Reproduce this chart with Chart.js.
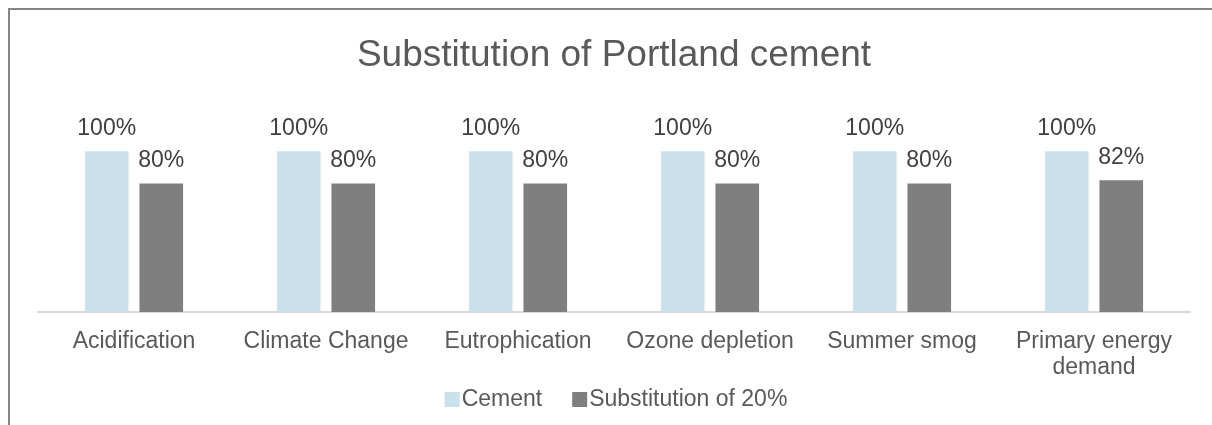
<!DOCTYPE html>
<html>
<head>
<meta charset="utf-8">
<script src="https://cdn.jsdelivr.net/npm/chart.js@4"></script>
<style>
  html, body { margin: 0; padding: 0; background: #fff; }
  #wrap { position: relative; width: 1212px; height: 425px; }
  #frame { position: absolute; left: 8px; top: 8px; right: 0; bottom: 0;
           border-left: 2px solid #868686; border-top: 2px solid #868686; }
  canvas { position: absolute; left: 0; top: 0; }
</style>
</head>
<body>
<div id="wrap">
  <div id="frame"></div>
  <canvas id="chart" width="1212" height="425"></canvas>
</div>
<script>
const categories = [
  'Acidification', 'Climate Change', 'Eutrophication',
  'Ozone depletion', 'Summer smog', ['Primary energy', 'demand']
];
const cement = [1.00, 1.00, 1.00, 1.00, 1.00, 1.00];
const substitution = [0.80, 0.80, 0.80, 0.80, 0.80, 0.82];
const seriesNames = ['Cement', 'Substitution of 20%'];
const seriesColors = ['#cae1ed', '#7f7f7f'];

const FONT = '"Liberation Sans", Arial, sans-serif';

// value labels above each bar
const valueLabels = {
  id: 'valueLabels',
  afterDatasetsDraw(chart) {
    const ctx = chart.ctx;
    ctx.save();
    ctx.font = '23px ' + FONT;
    ctx.fillStyle = '#404040';
    ctx.textAlign = 'center';
    ctx.textBaseline = 'middle';
    chart.data.datasets.forEach((ds, i) => {
      chart.getDatasetMeta(i).data.forEach((bar, j) => {
        ctx.fillText(Math.round(ds.data[j] * 100) + '%', bar.x, bar.y - 23);
      });
    });
    ctx.restore();
  }
};

// legend drawn by hand: small square right next to the text
const smallLegend = {
  id: 'smallLegend',
  afterDraw(chart) {
    const ctx = chart.ctx;
    ctx.save();
    ctx.font = '23px ' + FONT;
    const box = 15, gap = 2, spacing = 30;
    const widths = seriesNames.map(n => ctx.measureText(n).width);
    let total = 0;
    widths.forEach((w, i) => { total += box + gap + w + (i ? spacing : 0); });
    const cx = (chart.chartArea.left + chart.chartArea.right) / 2 + 2;
    let x = cx - total / 2;
    const base = 406;
    ctx.textBaseline = 'alphabetic';
    seriesNames.forEach((n, i) => {
      ctx.fillStyle = seriesColors[i];
      ctx.fillRect(x, base - 14, box, box);
      x += box + gap;
      ctx.fillStyle = '#595959';
      ctx.fillText(n, x, base);
      x += widths[i] + spacing;
    });
    ctx.restore();
  }
};

new Chart(document.getElementById('chart'), {
  type: 'bar',
  data: {
    labels: categories,
    datasets: [
      { label: seriesNames[0], data: cement, backgroundColor: seriesColors[0] },
      { label: seriesNames[1], data: substitution, backgroundColor: seriesColors[1] }
    ]
  },
  options: {
    responsive: false,
    animation: false,
    categoryPercentage: 0.568,
    barPercentage: 0.8,
    layout: { padding: { left: 38, right: 22, top: 0, bottom: 27 } },
    plugins: {
      legend: { display: false },
      tooltip: { enabled: false },
      title: {
        display: true,
        text: 'Substitution of Portland cement',
        color: '#595959',
        font: { family: FONT, size: 37, weight: 'normal' },
        padding: { top: 34, bottom: 8.6 }
      }
    },
    scales: {
      x: {
        grid: { display: true, drawOnChartArea: false, drawTicks: false },
        border: { display: true, color: '#d9d9d9', width: 2 },
        ticks: {
          color: '#595959',
          padding: 17,
          maxRotation: 0,
          autoSkip: false,
          font: { family: FONT, size: 23, lineHeight: 1.13 }
        }
      },
      y: { display: false, min: 0, max: 1.4 }
    }
  },
  plugins: [valueLabels, smallLegend]
});
</script>
</body>
</html>
